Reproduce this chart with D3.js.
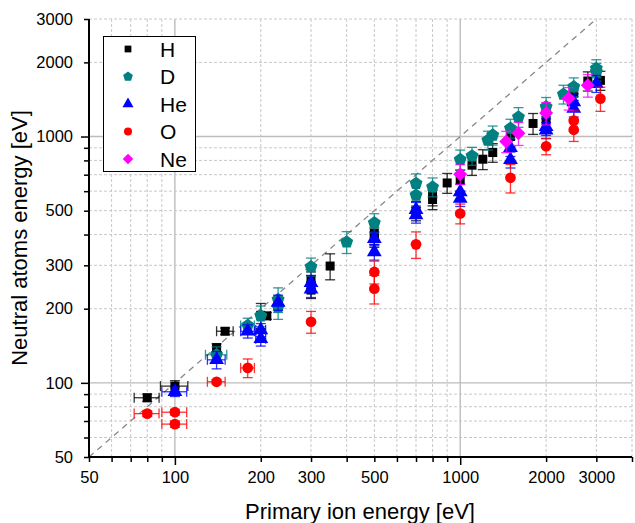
<!DOCTYPE html>
<html><head><meta charset="utf-8">
<script src="https://cdn.jsdelivr.net/npm/d3@7"></script>
<style>body{margin:0;background:#fff}svg{display:block;font-family:"Liberation Sans",Arial,sans-serif}</style>
</head><body><svg id="c" width="635" height="523"></svg>
<script>
// ---- data ----
const seriesNames = ["H","D","He","O","Ne"];
const hX    = [80,100,140,150,200,210,300,300,350,500,500,700,800,800,900,1000,1100,1200,1300,1500,1800,2000,2500,2800,3100];
const hY    = [87,97,139,162,188,187,262,238,298,404,390,500,578,555,648,665,765,809,861,1000,1130,1165,1500,1680,1690];
const hXErr = [8,11,0,10,0,6,0,0,0,0,0,0,0,0,0,0,0,0,0,0,0,0,0,0,0];
const hYErr = [3,5,5,5,22,6,20,18,36,40,35,45,55,50,60,65,70,75,75,90,110,110,130,150,150];

const dX    = [140,180,200,230,230,300,400,500,700,700,800,1000,1100,1250,1300,1500,1600,2000,2300,2500,3000,3000];
const dY    = [130,171,187,218,203,296,373,446,645,578,624,806,834,966,1013,1080,1200,1320,1485,1590,1890,1830];
const dXErr = [12,10,0,0,0,0,0,0,0,0,0,0,0,0,0,0,0,0,0,0,0,0];
const dYErr = [10,12,18,25,22,25,38,40,60,55,55,75,70,85,90,95,110,120,130,140,160,150];

const heX    = [100,140,180,200,200,230,300,300,500,500,700,700,1000,1000,1500,1500,2000,2000,2500,2500,3000];
const heY    = [92,124,162,164,151,212,255,240,385,340,505,480,596,560,900,805,1095,1060,1380,1300,1640];
const heXErr = [10,10,10,8,8,0,0,0,0,0,0,0,0,0,0,0,0,0,0,0,0];
const heYErr = [4,10,10,10,10,15,18,18,25,25,35,35,45,40,70,60,85,80,110,100,130];

const oX    = [80,100,100,140,180,300,500,500,700,1000,1500,2000,2500,2500,3100];
const oY    = [75,76,68,101,115,177,282,241,365,487,680,913,1160,1065,1425];
const oXErr = [8,10,10,10,10,0,0,0,0,0,0,0,0,0,0];
const oYErr = [2,2,2,2,10,18,30,32,45,45,90,70,110,110,160];

const neX    = [1000,1450,1600,2000,2400,2800];
const neY    = [703,955,1030,1245,1430,1615];
const neYErr = [65,95,110,130,150,170];

const xTickValues = [50,60,70,80,90,100,200,300,400,500,600,700,800,900,1000,2000,3000,4000];
const xTickLabels = [50,100,200,300,500,1000,2000,3000];
const yTickValues = [50,60,70,80,90,100,200,300,400,500,600,700,800,900,1000,2000,3000];
const yTickLabels = [50,100,200,300,500,1000,2000,3000];
const majorTicks = [100,1000];

// ---- chart ----
const svg = d3.select("#c");
const x = d3.scaleLog().domain([50,4000]).range([89,632]);
const y = d3.scaleLog().domain([50,3000]).range([457,19]);

// grid
const grid = svg.append("g");
xTickValues.forEach(v=>{
  if (v===50) return;
  const maj = majorTicks.includes(v);
  grid.append("line").attr("x1",x(v)).attr("x2",x(v)).attr("y1",y(50)).attr("y2",y(3000))
    .attr("stroke", maj?"#bdbdbd":"#c8c8c8").attr("stroke-width",maj?1.4:1)
    .attr("stroke-dasharray", maj?null:"3,2");
});
yTickValues.forEach(v=>{
  if (v===50) return;
  const maj = majorTicks.includes(v);
  grid.append("line").attr("x1",x(50)).attr("x2",x(4000)).attr("y1",y(v)).attr("y2",y(v))
    .attr("stroke", maj?"#bdbdbd":"#c8c8c8").attr("stroke-width",maj?1.4:1)
    .attr("stroke-dasharray", maj?null:"3,2");
});

// diagonal y = x
svg.append("line").attr("x1",x(50)).attr("y1",y(50)).attr("x2",x(3000)).attr("y2",y(3000))
  .attr("stroke","#888").attr("stroke-width",1.3).attr("stroke-dasharray","6,5");

// axes
const fmt = d => (d3.format("d"))(d);
const xAxis = d3.axisBottom(x).tickValues(xTickValues)
  .tickFormat(d => xTickLabels.includes(d) ? fmt(d) : "").tickSizeOuter(0).tickPadding(8);
const gx = svg.append("g").attr("transform",`translate(0,${y(50)})`).call(xAxis);
gx.selectAll(".tick line").attr("y2", d => majorTicks.includes(d)?8:5).attr("stroke-width",1.5);
gx.select(".domain").attr("stroke-width",2).attr("d",`M${x(50)},0H${x(4000)}`);
gx.selectAll("text").attr("font-size",16.5).attr("fill","#000").attr("font-family","Liberation Sans, Arial, sans-serif");

const yAxis = d3.axisLeft(y).tickValues(yTickValues)
  .tickFormat(d => yTickLabels.includes(d) ? fmt(d) : "").tickSizeOuter(0).tickPadding(10);
const gy = svg.append("g").attr("transform",`translate(${x(50)},0)`).call(yAxis);
gy.selectAll(".tick line").attr("x2", d => majorTicks.includes(d)?-8:-5).attr("stroke-width",1.5);
gy.select(".domain").attr("stroke-width",2).attr("d",`M0,${y(50)}V${y(3000)}`);
gy.selectAll("text").attr("font-size",16.5).attr("fill","#000").attr("font-family","Liberation Sans, Arial, sans-serif");

// axis titles
svg.append("text").attr("x",360).attr("y",519).attr("text-anchor","middle")
  .attr("font-size",22).text("Primary ion energy [eV]");
svg.append("text").attr("transform",`translate(27,238) rotate(-90)`).attr("text-anchor","middle")
  .attr("font-size",22).text("Neutral atoms energy [eV]");

// symbols
function pentagon(r){
  const pts=[];
  for(let i=0;i<5;i++){const a=-Math.PI/2+i*2*Math.PI/5;pts.push([r*Math.cos(a),r*Math.sin(a)]);}
  return "M"+pts.map(p=>p[0].toFixed(2)+","+p[1].toFixed(2)).join("L")+"Z";
}
function diamond(r){return `M0,${-r}L${r},0L0,${r}L${-r},0Z`;}
const shapes = {
  H: s => d3.symbol(d3.symbolSquare, 81*s*s)(),
  D: s => pentagon(6.8*s),
  He: s => d3.symbol(d3.symbolTriangle, 95*s*s)(),
  O: s => d3.symbol(d3.symbolCircle, 90*s*s)(),
  Ne: s => diamond(7*s)
};
const colors = {H:"#000000", D:"#008080", He:"#0000ff", O:"#ff0000", Ne:"#ff00ff"};

const series = [
  {name:"H", xs:hX, ys:hY, xe:hXErr, ye:hYErr},
  {name:"D", xs:dX, ys:dY, xe:dXErr, ye:dYErr},
  {name:"He", xs:heX, ys:heY, xe:heXErr, ye:heYErr},
  {name:"O", xs:oX, ys:oY, xe:oXErr, ye:oYErr},
  {name:"Ne", xs:neX, ys:neY, xe:neX.map(()=>0), ye:neYErr}
];

const cap = 5;
series.forEach(s=>{
  const col = colors[s.name];
  const g = svg.append("g");
  const pts = s.xs.map((v,i)=>({x:v,y:s.ys[i],xe:s.xe[i],ye:s.ye[i]}));
  const eb = g.append("g").attr("stroke",col).attr("stroke-width",1.3).attr("stroke-opacity",0.8);
  pts.forEach(p=>{
    const cx=x(p.x), cy=y(p.y);
    if(p.ye>0){
      const y1=y(p.y+p.ye), y2=y(p.y-p.ye);
      eb.append("line").attr("x1",cx).attr("x2",cx).attr("y1",y1).attr("y2",y2);
      eb.append("line").attr("x1",cx-cap).attr("x2",cx+cap).attr("y1",y1).attr("y2",y1);
      eb.append("line").attr("x1",cx-cap).attr("x2",cx+cap).attr("y1",y2).attr("y2",y2);
    }
    if(p.xe>0){
      const x1=x(p.x-p.xe), x2=x(p.x+p.xe);
      eb.append("line").attr("x1",x1).attr("x2",x2).attr("y1",cy).attr("y2",cy);
      eb.append("line").attr("x1",x1).attr("x2",x1).attr("y1",cy-cap).attr("y2",cy+cap);
      eb.append("line").attr("x1",x2).attr("x2",x2).attr("y1",cy-cap).attr("y2",cy+cap);
    }
  });
  g.selectAll("path.m").data(pts).join("path").attr("class","m")
    .attr("d",shapes[s.name](1)).attr("fill",col)
    .attr("transform",d=>`translate(${x(d.x)},${y(d.y)})`);
});

// legend
const lg = svg.append("g");
lg.append("rect").attr("x",103.5).attr("y",36.5).attr("width",92).attr("height",135)
  .attr("fill","#fff").attr("stroke","#000").attr("stroke-width",1);
seriesNames.forEach((n,i)=>{
  const cy = 49 + i*27.5;
  lg.append("path").attr("d",shapes[n](0.75)).attr("fill",colors[n]).attr("transform",`translate(128,${cy})`);
  lg.append("text").attr("x",160).attr("y",cy+7.5).attr("font-size",21).text(n);
});
</script></body></html>
